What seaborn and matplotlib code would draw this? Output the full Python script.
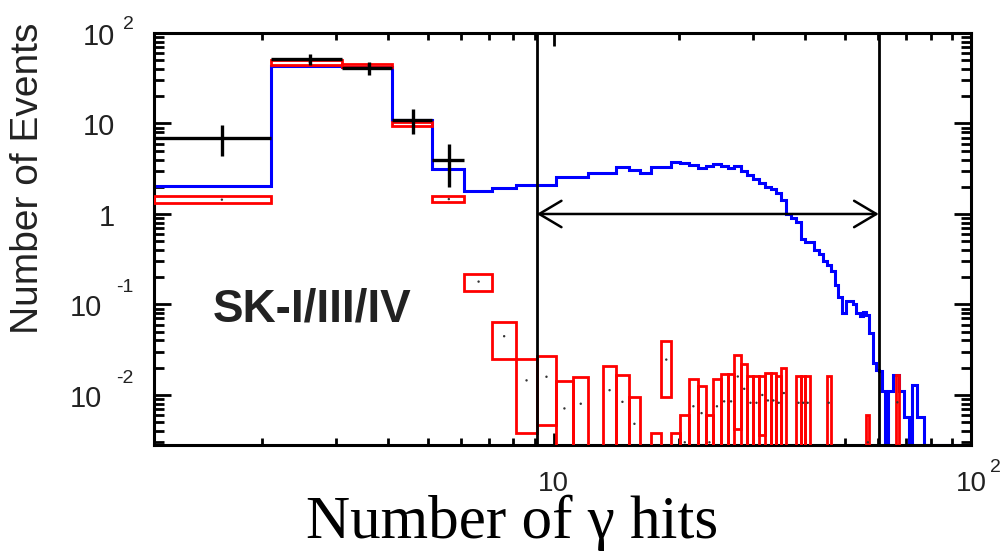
import numpy as np
import matplotlib
matplotlib.use("Agg")
import matplotlib.pyplot as plt
from matplotlib.patches import Rectangle, ArrowStyle
from matplotlib.ticker import FixedLocator, NullFormatter
import seaborn as sns

# ---------------------------------------------------------------- data
# Histogram bins are [k + 0.1, k + 1.1) for k = 1, 2, ...
bin_offset = 0.1

# Observed events (bins k = 1..5)
data_counts = [7, 52, 41, 11, 4]

# Expected prediction (blue), bins k = 1..94
blue_counts = [
    2.04, 43.0, 42.0, 10.9, 3.13, 1.79, 1.95, 2.09, 2.09, 2.58,
    2.58, 2.81, 2.81, 3.27, 3.06, 2.81, 3.27, 3.27, 3.77, 3.62,
    3.50, 3.19, 3.38, 3.56, 3.38, 3.19, 3.38, 3.00, 2.69, 2.41,
    2.21, 2.00, 1.87, 1.69, 1.43, 1.00, 0.91, 0.82, 0.53, 0.495,
    0.495, 0.40, 0.36, 0.30, 0.27, 0.237, 0.165, 0.122, 0.080, 0.108,
    0.108, 0.102, 0.080, 0.074, 0.082, 0.077, 0.049, 0.0226, 0.019, 0.0185,
    0.0112, 0.0, 0.0112, 0.0112, 0.0168, 0.0168, 0.0112, 0.0112, 0.0057, 0.0057,
    0.0, 0.013, 0.013, 0.0057, 0.0057, 0.0057, 0.0, 0.0, 0.0, 0.0,
    0.0, 0.0, 0.0, 0.0, 0.0, 0.0, 0.0, 0.0, 0.0, 0.0,
    0.0, 0.0, 0.0, 0.0,
]

# Monte Carlo prediction with statistical uncertainty (red boxes), bins k = 1..66
mc_values = [
    1.44, 47.3, 44.0, 9.87, 1.46, 0.179, 0.0446, 0.0145, 0.0159, 0.0071,
    0.0080, 0.0, 0.0113, 0.0084, 0.0048, 0.0, 0.0019, 0.0246, 0.0019, 0.0030,
    0.0075, 0.0063, 0.0030, 0.0075, 0.0085, 0.0085, 0.0160, 0.0117, 0.0082, 0.0082,
    0.0100, 0.0087, 0.0087, 0.0082, 0.0105, 0.0, 0.0, 0.0082, 0.0082, 0.0082,
    0.0, 0.0, 0.0, 0.0, 0.0082, 0.0, 0.0, 0.0, 0.0, 0.0,
    0.0, 0.0, 0.0, 0.0, 0.0, 0.0030, 0.0, 0.0, 0.0, 0.0,
    0.0, 0.0, 0.0, 0.0, 0.0, 0.0083,
]
mc_errors = [
    0.13, 2.6, 1.9, 0.55, 0.11, 0.037, 0.0194, 0.0107, 0.0113, 0.0071,
    0.0080, 0.0, 0.0094, 0.0084, 0.0048, 0.0, 0.0019, 0.0150, 0.0019, 0.0030,
    0.0075, 0.0063, 0.0030, 0.0075, 0.0085, 0.0085, 0.0118, 0.0103, 0.0082, 0.0082,
    0.0064, 0.0087, 0.0087, 0.0082, 0.0095, 0.0, 0.0, 0.0082, 0.0082, 0.0082,
    0.0, 0.0, 0.0, 0.0, 0.0082, 0.0, 0.0, 0.0, 0.0, 0.0,
    0.0, 0.0, 0.0, 0.0, 0.0, 0.0030, 0.0, 0.0, 0.0, 0.0,
    0.0, 0.0, 0.0, 0.0, 0.0, 0.0083,
]

# Signal window and axis settings
window = (9.1, 60.1)
arrow_level = 1.0
x_range = (1.1, 100.0)
y_range = (0.0028, 100.0)
x_major = [10, 100]
x_tick_base = ["10", "10"]
x_tick_exp = ["", "2"]
y_major = [100, 10, 1, 0.1, 0.01]
y_tick_base = ["10", "10", "1", "10", "10"]
y_tick_exp = ["2", "", "", "-1", "-2"]
period_label = "SK-I/III/IV"

# ---------------------------------------------------------------- style
sns.set_theme(style="ticks")
plt.rcParams["font.family"] = ["Liberation Sans", "DejaVu Sans"]

PX = 0.72  # points per pixel at 100 dpi
TICK_COLOR = "#222222"

fig = plt.figure(figsize=(10.06, 5.54), dpi=100)
ax = fig.add_axes([154 / 1006, 1 - 445 / 554, 817 / 1006, 412 / 554])
ax.set_xscale("log")
ax.set_yscale("log")
ax.set_xlim(*x_range)
ax.set_ylim(*y_range)

floor = y_range[0]

# Blue prediction histogram (empty bins are drawn on the lower frame)
blue = np.asarray(blue_counts, dtype=float)
blue_edges = np.arange(1, len(blue) + 2) + bin_offset
ax.stairs(np.where(blue > 0, blue, floor), blue_edges, baseline=None,
          color="#0000ff", lw=2.2, zorder=2)

# Red MC boxes (value +- error)
mc_v = np.asarray(mc_values, dtype=float)
mc_e = np.asarray(mc_errors, dtype=float)
mc_lo = np.arange(1, len(mc_v) + 1) + bin_offset
for lo, v, e in zip(mc_lo, mc_v, mc_e):
    if v <= 0:
        continue
    bottom = max(v - e, floor * 0.05)
    ax.add_patch(Rectangle((lo, bottom), 1.0, (v + e) - bottom, fill=False,
                           edgecolor="#ff0000", lw=2.0, zorder=3))
filled = mc_v > 0
sns.scatterplot(x=mc_lo[filled] + 0.5, y=mc_v[filled], s=3, color="#333333",
                edgecolor="none", ax=ax, zorder=4, legend=False)

# Observed data with Poisson errors
dc = np.asarray(data_counts, dtype=float)
dx = np.arange(1, len(dc) + 1) + bin_offset + 0.5
ax.errorbar(dx, dc, xerr=0.5, yerr=np.sqrt(dc), fmt="none", ecolor="black",
            elinewidth=2.4, capsize=0, zorder=5)

# Signal window lines and arrow
for xv in window:
    ax.axvline(xv, color="black", lw=2.0, zorder=6)
ax.annotate("", xy=(window[1], arrow_level), xytext=(window[0], arrow_level),
            arrowprops=dict(arrowstyle=ArrowStyle("<->", head_length=1.6, head_width=0.95),
                            color="black", lw=1.8, shrinkA=0, shrinkB=0,
                            mutation_scale=10), zorder=6)

# Period label
ax.text(0.072, 0.299, period_label, transform=ax.transAxes, fontsize=33,
        fontweight="bold", color="#222222", ha="left", va="baseline")

# Frame and ticks
for s in ax.spines.values():
    s.set_linewidth(2.2)
    s.set_color("black")
ax.xaxis.set_major_locator(FixedLocator(x_major))
ax.xaxis.set_minor_locator(FixedLocator([v * d for d in (1, 10) for v in range(2, 10)]))
ax.yaxis.set_major_locator(FixedLocator(y_major))
ax.yaxis.set_minor_locator(FixedLocator([v * 10.0 ** p for p in range(-3, 2) for v in range(2, 10)]))
for axis in (ax.xaxis, ax.yaxis):
    axis.set_major_formatter(NullFormatter())
    axis.set_minor_formatter(NullFormatter())

ax.tick_params(axis="both", which="both", direction="in", top=True, right=True,
               colors="black")
ax.tick_params(axis="x", which="major", length=9, width=2.0)
ax.tick_params(axis="x", which="minor", length=5, width=2.0)
ax.tick_params(axis="y", which="major", length=12, width=2.0)
ax.tick_params(axis="y", which="minor", length=7, width=2.0)

# Power-of-ten tick labels: mantissa plus raised exponent
for val, base, exp in zip(y_major, y_tick_base, y_tick_exp):
    neg = exp.startswith("-")
    right = -52 if neg else -39
    ax.annotate(base, xy=(0, val), xycoords=("axes fraction", "data"),
                xytext=(right * PX, -12 * PX), textcoords="offset points",
                ha="right", va="baseline", fontsize=21, color=TICK_COLOR,
                annotation_clip=False)
    if exp:
        gap = 14 if neg else 8
        lift = 24 if neg else 16
        ax.annotate(exp, xy=(0, val), xycoords=("axes fraction", "data"),
                    xytext=((right + gap) * PX, (lift - 12) * PX),
                    textcoords="offset points", ha="left", va="baseline",
                    fontsize=14, color=TICK_COLOR, annotation_clip=False)

for val, base, exp in zip(x_major, x_tick_base, x_tick_exp):
    ax.annotate(base, xy=(val, 0), xycoords=("data", "axes fraction"),
                xytext=(0, -46 * PX), textcoords="offset points",
                ha="center", va="baseline", fontsize=20, color=TICK_COLOR,
                annotation_clip=False)
    if exp:
        ax.annotate(exp, xy=(val, 0), xycoords=("data", "axes fraction"),
                    xytext=(19 * PX, -27 * PX), textcoords="offset points",
                    ha="left", va="baseline", fontsize=14, color=TICK_COLOR,
                    annotation_clip=False)

# Axis titles
ax.set_xlabel("Number of γ hits", fontsize=44, color="black", va="baseline",
              family=["Liberation Serif", "DejaVu Serif"])
ax.xaxis.set_label_coords(0.4388, -0.226)
ax.set_ylabel("Number of Events", fontsize=28, color="#222222", va="center")
ax.yaxis.set_label_coords(-0.154, 0.647)

fig.savefig("out.png", dpi=100, facecolor="white")
